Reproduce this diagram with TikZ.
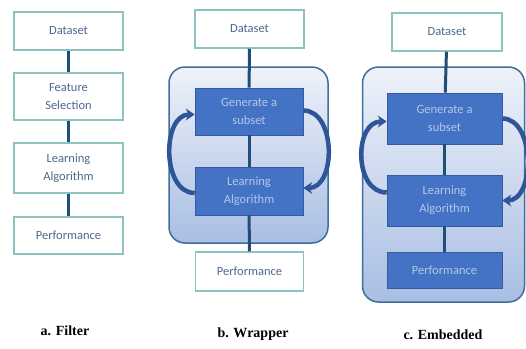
\documentclass[tikz,border=0pt]{standalone}
\usepackage{fontspec}
\setmainfont{Carlito}
\newfontfamily\labelfont{Liberation Serif}
\usetikzlibrary{arrows.meta,calc}
\definecolor{tealedge}{HTML}{8CC2BF}
\definecolor{boxtext}{HTML}{4D6990}
\definecolor{bluebox}{HTML}{4472C4}
\definecolor{bluetext}{HTML}{B4C7E7}
\definecolor{navyline}{HTML}{1F4E79}
\definecolor{arcblue}{HTML}{2E5597}
\definecolor{outeredge}{HTML}{3D6E9C}
\definecolor{outertop}{HTML}{EEF2FA}
\definecolor{outerbot}{HTML}{A9BEE3}
\begin{document}
\begin{tikzpicture}[x=1pt,y=-1pt,
  whitebox/.style={draw=tealedge,line width=1.5pt,fill=white,text=boxtext,
    align=center,inner sep=0pt,font=\fontsize{12.5}{18}\selectfont},
  bluebx/.style={draw=bluebox!80!black,line width=0.6pt,fill=bluebox,text=bluetext,
    align=center,inner sep=0pt,font=\fontsize{12.5}{18}\selectfont},
  outerbox/.style={draw=outeredge,line width=1.5pt,rounded corners=16pt,
    top color=outertop,bottom color=outerbot},
  link/.style={draw=navyline,line width=3pt},
  loop/.style={draw=arcblue,line width=4.5pt,-{Stealth[length=9pt,width=12pt]}},
  caption/.style={font=\labelfont\bfseries\fontsize{14}{16}\selectfont,text=black}]
\useasboundingbox (0,0) rectangle (526,348);
\fill[white] (0,0) rectangle (526,348);

% ---- a. Filter
\node[whitebox,minimum width=109pt,minimum height=38pt] (ad) at (68.5,31) {Dataset};
\node[whitebox,minimum width=109pt,minimum height=47pt] (af) at (68.5,96.5) {Feature\\Selection};
\node[whitebox,minimum width=109pt,minimum height=50pt] (al) at (68.5,168) {Learning\\Algorithm};
\node[whitebox,minimum width=109pt,minimum height=37pt] (ap) at (68.5,235.5) {Performance};
\draw[link] (ad) -- (af);
\draw[link] (af) -- (al);
\draw[link] (al) -- (ap);
\node[caption] (acap) at (65,331) {a. Filter};

% ---- b. Wrapper
\node[outerbox,minimum width=159pt,minimum height=176pt] (bo) at (248.5,155) {};
\node[whitebox,minimum width=109pt,minimum height=38pt] (bd) at (249.5,29) {Dataset};
\node[bluebx,minimum width=108pt,minimum height=47pt] (bg) at (249,111.5) {Generate a\\subset};
\node[bluebx,minimum width=108pt,minimum height=48pt] (bl) at (249,191) {Learning\\Algorithm};
\node[whitebox,minimum width=108pt,minimum height=39pt] (bp) at (249.5,271.5) {Performance};
\draw[link] (bd) -- (bg);
\draw[link] (bg) -- (bl);
\draw[link] (bl) -- (bp);
\draw[loop] ($(bl.west)+(0,2)$) .. controls +(-33,0) and +(-33,0) .. ($(bg.west)+(0,3)$);
\draw[loop] ($(bg.east)+(0,-1)$) .. controls +(33,0) and +(33,0) .. ($(bl.east)+(0,-3)$);
\node[caption] (bcap) at (253,334) {b. Wrapper};

% ---- c. Embedded
\node[outerbox,minimum width=162pt,minimum height=235pt] (co) at (443.5,184.5) {};
\node[whitebox,minimum width=110pt,minimum height=38pt] (cd) at (447,32) {Dataset};
\node[bluebx,minimum width=115pt,minimum height=51pt] (cg) at (444.5,118.5) {Generate a\\subset};
\node[bluebx,minimum width=115pt,minimum height=51pt] (cl) at (444.5,200.5) {Learning\\Algorithm};
\node[bluebx,minimum width=115pt,minimum height=36pt] (cp) at (444.5,270) {Performance};
\draw[link] (cd) -- (cg);
\draw[link] (cg) -- (cl);
\draw[link] (cl) -- (cp);
\draw[loop] ($(cl.west)+(0,-8)$) .. controls +(-33,0) and +(-33,0) .. ($(cg.west)+(0,3)$);
\draw[loop] ($(cg.east)+(0,0)$) .. controls +(33,0) and +(33,0) .. ($(cl.east)+(0,0)$);
\node[caption] (ccap) at (443,335) {c. Embedded};
\end{tikzpicture}
\end{document}
